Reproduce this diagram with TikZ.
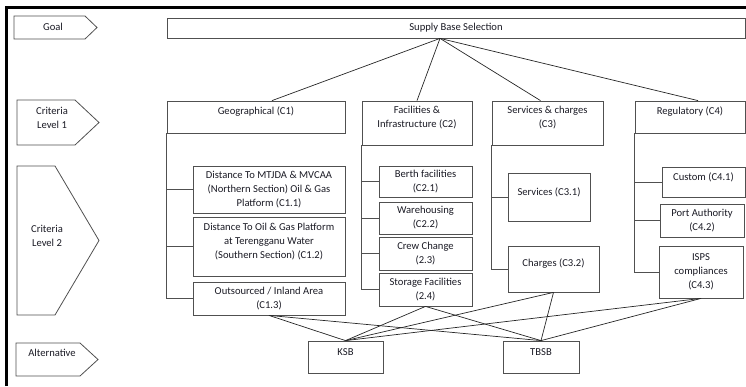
\documentclass[tikz,border=0pt]{standalone}
\usepackage{fontspec}
\setmainfont{Carlito}
\definecolor{boxc}{HTML}{505050}
\definecolor{linec}{HTML}{262626}
\definecolor{txtc}{HTML}{1A1A24}
\newcommand\mkbox[7]{%
  \node[bx, minimum width={(#4)-(#2)}, minimum height={(#5)-(#3)}] (#1) at ({((#2)+(#4))/2},{((#3)+(#5))/2}) {};
  \node[tx] (#1t) at ([yshift=#6]#1.center) {#7};}
\begin{document}
\begin{tikzpicture}[x=1pt,y=-1pt,
  bx/.style={draw=boxc, line width=0.8pt, rectangle, inner sep=0pt},
  tx/.style={font=\fontsize{10.6}{14}\selectfont, text=txtc, align=center, inner sep=0pt},
  ln/.style={draw=linec, line width=0.7pt},
  tag/.style={draw=boxc, line width=0.8pt, line join=miter}]
\useasboundingbox (0,0) rectangle (746,386);
% frame
\draw[line width=2.8pt, line join=miter] (6.5,386) -- (6.5,7.5) -- (746,7.5);
% left level tags
\draw[tag] (14,16) -- (85,16) -- (97,27.5) -- (85,39) -- (14,39) -- cycle;
\node[tx] (goalt) at (53,26.5) {Goal};
\draw[tag] (17,100) -- (75,100) -- (99,122.5) -- (75,145) -- (17,145) -- cycle;
\node[tx] (cl1t) at (52,117.5) {Criteria\\Level 1};
\draw[tag] (17,166) -- (55,166) -- (99,240.5) -- (55,315) -- (17,315) -- cycle;
\node[tx] (cl2t) at (47,236) {Criteria\\Level 2};
\draw[tag] (16,343) -- (80,343) -- (98,359.5) -- (80,376) -- (16,376) -- cycle;
\node[tx] (altt) at (52,353) {Alternative};
% boxes
\mkbox{sbs}{167}{18}{745}{38}{0pt}{Supply Base Selection}
\mkbox{c1}{167}{101}{345}{133}{5pt}{Geographical (C1)}
\mkbox{c2}{362}{101}{472}{145}{5pt}{Facilities \&\\Infrastructure (C2)}
\mkbox{c3}{492}{101}{603}{145}{5pt}{Services \& charges\\(C3)}
\mkbox{c4}{635}{101}{745}{133}{5pt}{Regulatory (C4)}
\mkbox{c11}{193}{166}{345}{213}{0pt}{Distance To MTJDA \& MVCAA\\(Northern Section) Oil \& Gas\\Platform (C1.1)}
\mkbox{c12}{193}{217}{345}{276}{5pt}{Distance To Oil \& Gas Platform\\at Terengganu Water\\(Southern Section) (C1.2)}
\mkbox{c13}{193}{282}{345}{315}{0pt}{Outsourced / Inland Area\\(C1.3)}
\mkbox{c21}{379}{166}{472}{197}{0pt}{Berth facilities\\(C2.1)}
\mkbox{c22}{379}{202}{472}{234}{0pt}{Warehousing\\(C2.2)}
\mkbox{c23}{379}{237}{472}{270}{0pt}{Crew Change\\(2.3)}
\mkbox{c24}{379}{273}{472}{306}{0pt}{Storage Facilities\\(2.4)}
\mkbox{c31}{508}{173}{590}{221}{5pt}{Services (C3.1)}
\mkbox{c32}{508}{246}{599}{292}{5pt}{Charges (C3.2)}
\mkbox{c41}{662}{167}{745}{197}{5pt}{Custom (C4.1)}
\mkbox{c42}{660}{204}{744}{237}{0pt}{Port Authority\\(C4.2)}
\mkbox{c43}{659}{246}{743}{298}{0pt}{ISPS\\compliances\\(C4.3)}
\mkbox{ksb}{308}{341}{383}{373}{5pt}{KSB}
\mkbox{tbsb}{503}{341}{579}{373}{5pt}{TBSB}
% goal to criteria
\coordinate (hub) at ([xshift=-16pt]sbs.south);
\draw[ln] (hub) -- ([xshift=16pt]c1.north);
\draw[ln] (hub) -- (c2.north);
\draw[ln] (hub) -- ([xshift=-7pt]c3.north);
\draw[ln] (hub) -- ([xshift=8pt]c4.north);
% trees
\draw[bx] (c1.south west) |- (c11.west);
\draw[bx] (c1.south west) |- (c12.west);
\draw[bx] (c1.south west) |- (c13.west);
\draw[bx] (c2.south west) |- (c21.west);
\draw[bx] (c2.south west) |- (c22.west);
\draw[bx] (c2.south west) |- (c23.west);
\draw[bx] (c2.south west) |- (c24.west);
\draw[bx] (c3.south west) |- (c31.west);
\draw[bx] (c3.south west) |- (c32.west);
\draw[bx] (c4.south west) |- (c41.west);
\draw[bx] (c4.south west) |- (c42.west);
\draw[bx] (c4.south west) |- (c43.west);
% alternatives
\foreach \s in {c13,c24,c32,c43}{
  \draw[ln] (\s.south) -- (ksb.north);
  \draw[ln] (\s.south) -- (tbsb.north);
}
\end{tikzpicture}
\end{document}
